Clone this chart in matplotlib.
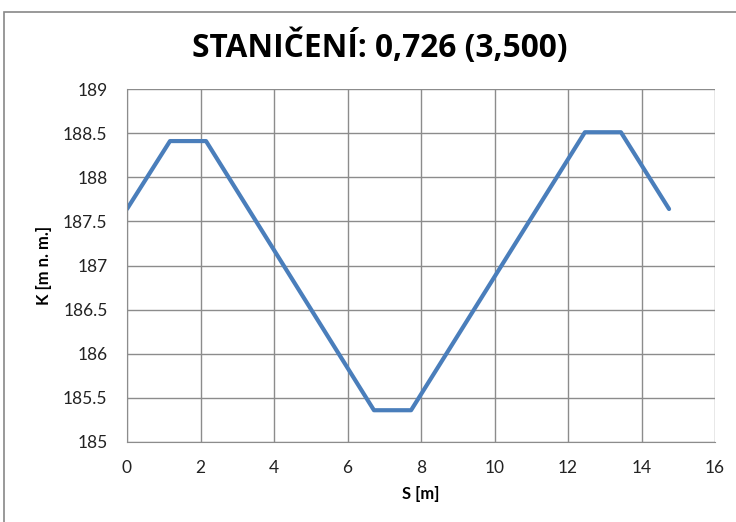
import matplotlib
matplotlib.use("Agg")
import matplotlib.pyplot as plt
from matplotlib.patches import Rectangle

s_values = [0.0, 1.17, 2.15, 6.72, 7.73, 12.46, 13.44, 14.75]
k_values = [187.64, 188.41, 188.41, 185.36, 185.36, 188.51, 188.51, 187.64]
x_ticks = [0, 2, 4, 6, 8, 10, 12, 14, 16]
y_ticks = [185, 185.5, 186, 186.5, 187, 187.5, 188, 188.5, 189]
y_tick_labels = ["185", "185.5", "186", "186.5", "187", "187.5", "188", "188.5", "189"]
title = "STANIČENÍ: 0,726 (3,500)"
xlabel = "S [m]"
ylabel = "K [m n. m.]"

plt.rcParams['font.family'] = ['Lato', 'DejaVu Sans']

fig = plt.figure(figsize=(7.36, 5.22), dpi=100)
fig.patches.append(Rectangle((4/736, -0.1), 1.2, (522-12)/522 + 0.1, transform=fig.transFigure,
                             fill=False, edgecolor='#888888', linewidth=1.2))
ax = fig.add_axes([127/736, 80/522, 588/736, 353/522])
ax.plot(s_values, k_values, color='#4A7EBB', linewidth=3, solid_joinstyle='round', solid_capstyle='round')
ax.set_xlim(0, 16)
ax.set_ylim(185, 189)
ax.set_xticks(x_ticks)
ax.set_yticks(y_ticks)
ax.set_yticklabels(y_tick_labels)
ax.grid(True, color='#8c8c8c', linewidth=1)
ax.set_axisbelow(True)
for sp in ['top', 'right']:
    ax.spines[sp].set_visible(False)
for sp in ['left', 'bottom']:
    ax.spines[sp].set_color('#8c8c8c')
ax.tick_params(axis='both', length=0, labelsize=12.5, colors='#222222')
ax.tick_params(axis='x', pad=13)
ax.tick_params(axis='y', pad=14)
ax.set_xlabel(xlabel, fontsize=12, fontweight='bold', labelpad=7)
ax.set_ylabel(ylabel, fontsize=12, fontweight='bold', labelpad=8)
fig.text(380/736, (522-47)/522, title, ha='center', va='center', fontsize=22.8,
         fontweight='bold', family=['Open Sans', 'DejaVu Sans'])
fig.savefig("out.png", dpi=100)
